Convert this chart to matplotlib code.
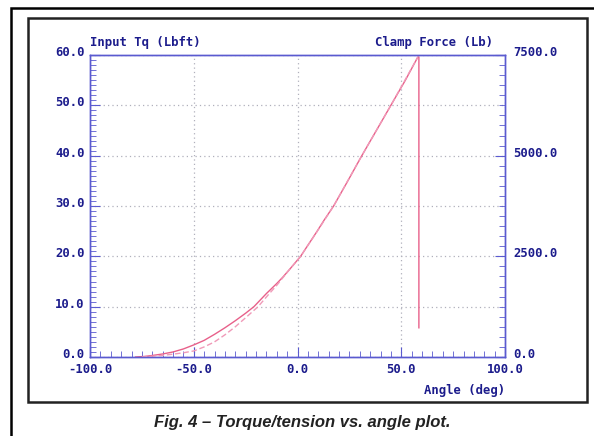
import numpy as np
import matplotlib.pyplot as plt
import matplotlib.transforms as mtransforms
from matplotlib.patches import Rectangle
from matplotlib.ticker import MultipleLocator

# ---------------- data ----------------
# input torque (Lbft) vs angle (deg), solid trace
tq_angle = [-78, -74, -70, -65, -60, -55, -50, -45, -40, -35, -30, -25, -21, -15, -10, -7, -3,
            1.5, 5, 9, 13, 17.4, 24, 31, 38, 45, 52, 58, 58.5, 58.5]
tq_value = [0.0, 0.1, 0.3, 0.6, 1.0, 1.6, 2.4, 3.3, 4.5, 5.8, 7.2, 8.7, 10.0, 12.6, 14.6, 15.9,
            17.8, 20.0, 22.2, 24.7, 27.3, 30.0, 34.8, 40.0, 45.0, 50.0, 55.0, 59.6, 59.6, 5.8]

# clamp force (Lb) vs angle (deg), dashed trace
cf_angle = [-75, -70, -65, -60, -55, -50, -45, -40, -35, -30, -25, -19, -14, -10, -5, 1.5,
            9, 17.4, 31, 45, 58]
cf_value = [0, 20, 40, 70, 105, 150, 250, 375, 550, 750, 975, 1250, 1550, 1780, 2100, 2500,
            3080, 3750, 5000, 6250, 7450]

x_ticks = [-100, -50, 0, 50, 100]
tq_ticks = [0, 10, 20, 30, 40, 50, 60]
cf_ticks = [0, 2500, 5000, 7500]

navy = '#1c1c8c'
spine = '#5a5ad0'
grid_c = '#b0b0bc'

fig = plt.figure(figsize=(5.94, 4.36), dpi=100)
W, H = 594, 436

# frames round the plot
fig.patches.append(Rectangle((11 / W, -0.05), 1.0, 1 - 8 / H + 0.05, transform=fig.transFigure,
                             fill=False, ec='black', lw=1.8))
fig.patches.append(Rectangle((28 / W, 1 - 402 / H), (587 - 28) / W, (402 - 18) / H,
                             transform=fig.transFigure, fill=False, ec='#222222', lw=1.8))

ax = fig.add_axes([90 / W, 1 - 357 / H, (505 - 90) / W, (357 - 55) / H])
ax2 = ax.twinx()

ax.plot(tq_angle, tq_value, color='#e8608a', lw=1.0)
ax2.plot(cf_angle, cf_value, color='#f09ab8', lw=1.0, dashes=(4, 2))

ax.set_xlim(-100, 100)
ax.set_ylim(0, 60)
ax2.set_ylim(0, 7500)

ax.set_xticks(x_ticks)
ax.set_xticklabels(['%.1f' % v for v in x_ticks])
ax.set_yticks(tq_ticks)
ax.set_yticklabels(['%.1f' % v for v in tq_ticks])
ax2.set_yticks(cf_ticks)
ax2.set_yticklabels(['%.1f' % v for v in cf_ticks])
ax.xaxis.set_minor_locator(MultipleLocator(5))
ax.yaxis.set_minor_locator(MultipleLocator(1))
ax2.yaxis.set_minor_locator(MultipleLocator(250))

ax.tick_params(axis='both', which='both', direction='in', color=spine, top=False, right=False)
ax.tick_params(axis='y', which='major', length=7, pad=4)
ax.tick_params(axis='y', which='minor', length=4)
ax.tick_params(axis='x', which='major', length=7, pad=4)
ax.tick_params(axis='x', which='minor', length=4)
ax2.tick_params(axis='y', which='major', direction='in', length=7, color=spine, pad=6)
ax2.tick_params(axis='y', which='minor', direction='in', length=4, color=spine)

font = dict(family='DejaVu Sans Mono', weight='bold', size=8.8)
# y labels sit a little above their ticks in the original
shift_up = mtransforms.ScaledTranslation(0, 4 / 100, fig.dpi_scale_trans)
for lab in ax.get_yticklabels() + ax2.get_yticklabels():
    lab.set_transform(lab.get_transform() + shift_up)
for lab in ax.get_xticklabels() + ax.get_yticklabels() + ax2.get_yticklabels():
    lab.set_fontproperties(font)
    lab.set_color(navy)

for a in (ax, ax2):
    for s in a.spines.values():
        s.set_color(spine)
        s.set_linewidth(1.0)

ax.grid(True, which='major', color=grid_c, linestyle=(0, (1, 2.5)), lw=0.9)

ax.text(0.0, 1.02, 'Input Tq (Lbft)', transform=ax.transAxes, ha='left', va='bottom',
        color=navy, **font)
ax.text(0.97, 1.02, 'Clamp Force (Lb)', transform=ax.transAxes, ha='right', va='bottom',
        color=navy, **font)
ax.text(1.0, -0.09, 'Angle (deg)', transform=ax.transAxes, ha='right', va='top',
        color=navy, **font)

fig.text(302 / W, 1 - 422 / H, 'Fig. 4 \u2013 Torque/tension vs. angle plot.', ha='center',
         va='center', family='Liberation Sans', style='italic', weight='bold', size=12,
         color='#222222')

fig.savefig('out.png', dpi=100)
